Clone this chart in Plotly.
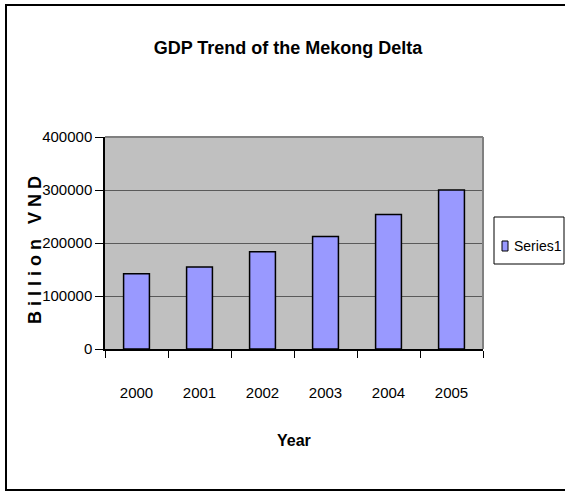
import plotly.graph_objects as go

years = ["2000", "2001", "2002", "2003", "2004", "2005"]
gdp = [142000, 154500, 183500, 212500, 254000, 300000]
y_ticks = [0, 100000, 200000, 300000, 400000]
series_name = "Series1"

FONT = "Liberation Sans Narrow, Arial Narrow, Liberation Sans, Arial, sans-serif"
BAR_COLOR = "#9999FF"

W, H = 565, 492
L, R, T, B = 105, 82, 137, 143
pw, ph = W - L - R, H - T - B


def px_x(x):
    return (x - L) / pw


def px_y(y):
    return (H - B - y) / ph


fig = go.Figure()
fig.add_trace(go.Bar(
    x=years, y=gdp, name=series_name, width=0.41,
    marker=dict(color=BAR_COLOR, line=dict(color="#000000", width=1.5)),
    showlegend=False,
))

shapes = [
    # outer chart frame
    dict(type="rect", xref="paper", yref="paper",
         x0=px_x(6), x1=px_x(575), y0=px_y(490), y1=px_y(5),
         line=dict(color="#000000", width=2), layer="below"),
    # plot area top/right border
    dict(type="line", xref="paper", yref="paper", x0=0, x1=1, y0=1, y1=1,
         line=dict(color="#808080", width=2)),
    dict(type="line", xref="paper", yref="paper", x0=1, x1=1, y0=0, y1=1,
         line=dict(color="#808080", width=2)),
    # legend box
    dict(type="rect", xref="paper", yref="paper",
         x0=px_x(494), x1=px_x(564), y0=px_y(264), y1=px_y(217),
         line=dict(color="#000000", width=1), fillcolor="#FFFFFF", layer="below"),
    # legend key
    dict(type="rect", xref="paper", yref="paper",
         x0=px_x(502), x1=px_x(508), y0=px_y(251), y1=px_y(241),
         line=dict(color="#000000", width=1), fillcolor=BAR_COLOR),
]

annotations = [
    dict(text=series_name, xref="paper", yref="paper",
         x=px_x(512), y=px_y(246), showarrow=False,
         font=dict(family=FONT, size=14, color="#000000"),
         xanchor="left", yanchor="middle"),
    dict(text="<b>Year</b>", xref="paper", yref="paper",
         x=px_x(294), y=px_y(440), showarrow=False,
         font=dict(family=FONT, size=16, color="#000000"),
         xanchor="center", yanchor="middle"),
    dict(text="<b>B i l l i o n   V N D</b>", xref="paper", yref="paper",
         x=px_x(35), y=px_y(250), showarrow=False, textangle=-90,
         font=dict(family=FONT, size=18, color="#000000"),
         xanchor="center", yanchor="middle"),
]

fig.update_layout(
    width=W, height=H,
    margin=dict(l=L, r=R, t=T, b=B, autoexpand=False),
    paper_bgcolor="#FFFFFF",
    plot_bgcolor="#C0C0C0",
    title=dict(text="<b>GDP Trend of the Mekong Delta</b>",
               x=288 / W, xanchor="center", xref="container",
               y=1 - 48 / H, yanchor="middle",
               font=dict(family=FONT, size=18, color="#000000")),
    font=dict(family=FONT, size=15, color="#000000"),
    bargap=0.59,
    showlegend=False,
    shapes=shapes,
    annotations=annotations,
)

fig.update_xaxes(
    type="category", showline=True, linecolor="#000000", linewidth=1.5,
    ticks="outside", tickson="boundaries", ticklen=7, tickcolor="#000000",
    ticklabelstandoff=29, showgrid=False, zeroline=False,
    tickfont=dict(family=FONT, size=15),
)
fig.update_yaxes(
    range=[0, 400000], tickvals=y_ticks, ticktext=[str(v) for v in y_ticks],
    showline=True, linecolor="#000000", linewidth=1.5,
    ticks="outside", ticklen=8, tickcolor="#000000",
    showgrid=True, gridcolor="#5A5A5A", gridwidth=1, zeroline=False,
    tickfont=dict(family=FONT, size=15),
)

fig.write_html("out.html")
